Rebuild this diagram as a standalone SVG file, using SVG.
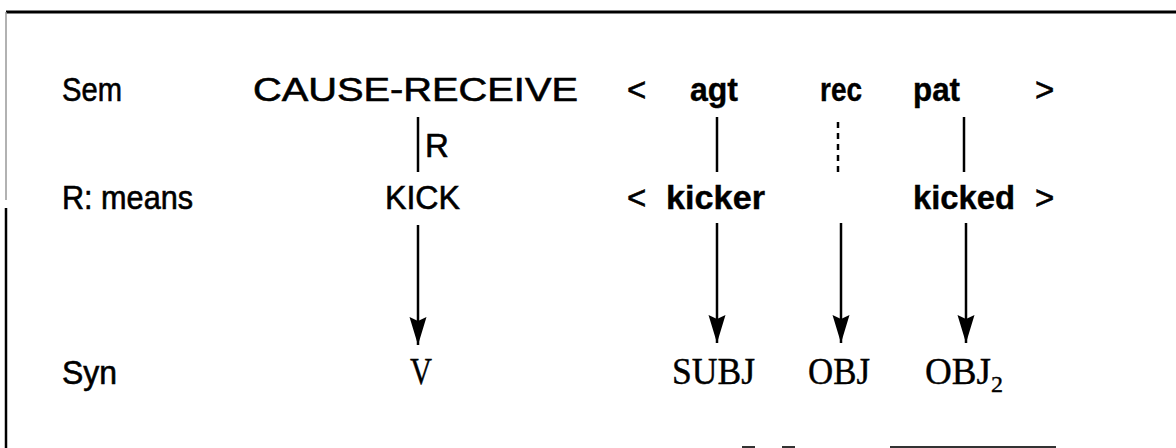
<svg xmlns="http://www.w3.org/2000/svg" width="1176" height="448" viewBox="0 0 1176 448">
<style>
.s{font-family:"Liberation Sans",Arial,sans-serif;font-size:33px;fill:#000;stroke:#000;stroke-width:0.6}
.b{font-weight:bold;stroke-width:0.4}
.r{font-family:"Liberation Serif","Times New Roman",serif;font-size:38px;fill:#000;stroke:#000;stroke-width:0.4}
.ln{stroke:#000;stroke-width:2.5;fill:none}
.ar{stroke:#000;stroke-width:2.5;fill:none;marker-end:url(#ah)}
</style>
<defs>
<marker id="ah" markerUnits="userSpaceOnUse" markerWidth="34" markerHeight="22" viewBox="-32 -11 34 22" refX="0" refY="0" orient="auto">
<path d="M0,0 L-28,-8.5 L-24,0 L-28,8.5 Z" fill="#000"/>
</marker>
</defs>
<rect width="1176" height="448" fill="#fff"/>
<g id="frame">
<line x1="6" y1="12" x2="1176" y2="12" stroke="#000" stroke-width="3"/>
<line x1="6" y1="12" x2="6" y2="200" stroke="#999" stroke-width="1.5"/>
<line x1="6" y1="208" x2="6" y2="448" stroke="#000" stroke-width="2.5"/>
<rect x="742" y="446" width="13" height="2" fill="#333"/>
<rect x="782" y="446" width="13" height="2" fill="#333"/>
<rect x="890" y="446" width="166" height="2" fill="#333"/>
</g>
<g id="row-labels">
<text class="s" x="62" y="101" textLength="60" lengthAdjust="spacingAndGlyphs">Sem</text>
<text class="s" x="62" y="209" textLength="131" lengthAdjust="spacingAndGlyphs">R: means</text>
<text class="s" x="62" y="384" textLength="55" lengthAdjust="spacingAndGlyphs">Syn</text>
</g>
<g id="cause-receive"><text class="s" x="253" y="101" textLength="325" lengthAdjust="spacingAndGlyphs">CAUSE-RECEIVE</text></g>
<g id="sem-frame">
<text class="s" x="627" y="101">&lt;</text>
<text class="s b" x="690" y="101" textLength="48" lengthAdjust="spacingAndGlyphs">agt</text>
<text class="s b" x="820" y="101" textLength="42" lengthAdjust="spacingAndGlyphs">rec</text>
<text class="s b" x="913" y="101" textLength="47" lengthAdjust="spacingAndGlyphs">pat</text>
<text class="s" x="1035" y="101">&gt;</text>
</g>
<g id="kick"><text class="s" x="385" y="209" textLength="75" lengthAdjust="spacingAndGlyphs">KICK</text></g>
<g id="kick-frame">
<text class="s" x="627" y="209">&lt;</text>
<text class="s b" x="666" y="209" textLength="99" lengthAdjust="spacingAndGlyphs">kicker</text>
<text class="s b" x="913" y="209" textLength="102" lengthAdjust="spacingAndGlyphs">kicked</text>
<text class="s" x="1035" y="209">&gt;</text>
</g>
<g id="syn">
<text class="r" x="410" y="384" textLength="22" lengthAdjust="spacingAndGlyphs">V</text>
<text class="r" x="672" y="384" textLength="83" lengthAdjust="spacingAndGlyphs">SUBJ</text>
<text class="r" x="808" y="384" textLength="62" lengthAdjust="spacingAndGlyphs">OBJ</text>
<text class="r" x="925" y="384"><tspan textLength="66" lengthAdjust="spacingAndGlyphs">OBJ</tspan><tspan font-size="24" dy="8">2</tspan></text>
</g>
<g id="connectors">
<line class="ln" x1="418" y1="117" x2="418" y2="172"/>
<text class="s" x="425" y="157" font-size="31">R</text>
<line class="ln" x1="717" y1="117" x2="717" y2="172"/>
<line class="ln" x1="838" y1="122" x2="838" y2="172" stroke-dasharray="6 5"/>
<line class="ln" x1="964" y1="117" x2="964" y2="172"/>
<line class="ar" x1="418" y1="225" x2="418" y2="345"/>
<line class="ar" x1="717" y1="223" x2="717" y2="343"/>
<line class="ar" x1="841" y1="223" x2="841" y2="343"/>
<line class="ar" x1="966" y1="223" x2="966" y2="343"/>
</g>
</svg>
